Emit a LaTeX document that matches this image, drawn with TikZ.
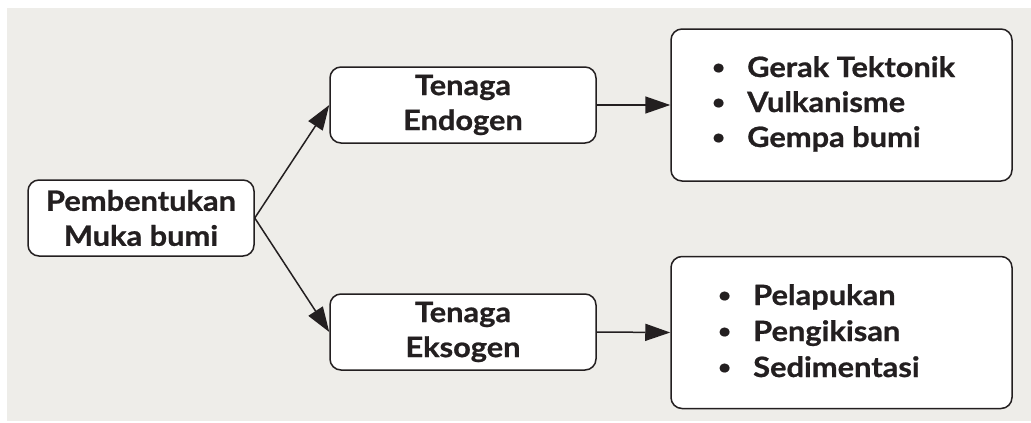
\documentclass[tikz,border=0pt]{standalone}
\usepackage{fontspec}
\setmainfont{Lato}[BoldFeatures={FakeStretch=1.1,FakeBold=0.8}]
\usetikzlibrary{arrows.meta}
\definecolor{bgc}{HTML}{EEEDE9}
\definecolor{ink}{HTML}{231F20}
\tikzset{
  box/.style={draw=ink, line width=1.5pt, fill=white, rounded corners=11pt, align=center, inner sep=0pt,
    font=\fontsize{28}{35}\selectfont\bfseries, text=ink},
  arr/.style={draw=ink, line width=1.5pt, -{Triangle[length=25pt,width=17pt]}},
  item/.style={anchor=base west, inner sep=0pt, font=\fontsize{28}{35}\selectfont\bfseries, text=ink},
}
\newcommand{\bul}{\makebox[35pt][l]{\raisebox{3pt}{\fontsize{20}{20}\selectfont•}}}
\begin{document}
\begin{tikzpicture}[x=1pt,y=-1pt]
\useasboundingbox (0,0) rectangle (1031,423);
\fill[bgc] (7,8) rectangle (1031,421);
\node[box, minimum width=226pt, minimum height=76pt] (pm) at (141,218) {Pembentukan\\Muka bumi};
\node[box, minimum width=266pt, minimum height=76pt] (en) at (463,105) {Tenaga\\Endogen};
\node[box, minimum width=266pt, minimum height=76pt] (ek) at (463,332) {Tenaga\\Eksogen};
\node[box, minimum width=341pt, minimum height=152pt] (r1) at (841.5,105) {};
\node[box, minimum width=341pt, minimum height=152pt] (r2) at (841.5,332.5) {};
\draw[arr] (pm.east) -- (en.west);
\draw[arr] (pm.east) -- (ek.west);
\draw[arr] (en.east) -- (r1.west);
\draw[arr] (ek.east) -- (r2.west);
\node[item] (a1) at (712,77) {\bul Gerak Tektonik};
\node[item] (a2) at (712,112) {\bul Vulkanisme};
\node[item] (a3) at (712,147) {\bul Gempa bumi};
\node[item] (b1) at (718,305) {\bul Pelapukan};
\node[item] (b2) at (718,341) {\bul Pengikisan};
\node[item] (b3) at (718,377) {\bul Sedimentasi};
\end{tikzpicture}
\end{document}
